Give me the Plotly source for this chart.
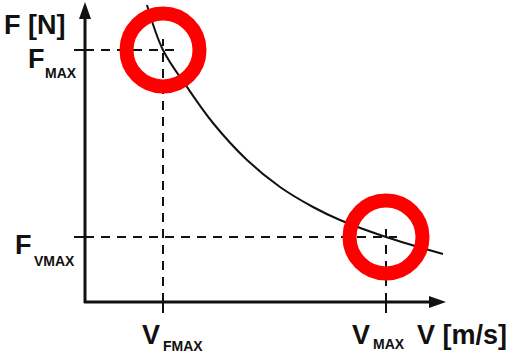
import plotly.graph_objects as go

# Force/velocity characteristic (arbitrary units on both axes)
speed = [62, 78, 102, 128, 162, 195, 228, 255, 301, 358]
force = [297, 252, 215, 179, 142, 115, 95, 82, 65, 48]

# Operating points marked on the curve
v_fmax, f_max = speed[1], force[1]
v_max, f_vmax = speed[8], force[8]

# Axis extents (arrow tips)
x_end = 361
y_end = 300

INK = "#111111"
RED = "#ff0000"
FONT = "Liberation Sans, Arial, sans-serif"

fig = go.Figure()

fig.add_trace(go.Scatter(
    x=speed, y=force, mode="lines",
    line=dict(color=INK, width=2, shape="spline", smoothing=1.0),
    hoverinfo="skip", showlegend=False,
))

shapes = []
dash = "9px,7px"
over = 11

# dashed guide lines from the axes to the marked points
shapes += [
    dict(type="line", x0=0, y0=f_max, x1=v_fmax + over, y1=f_max,
         line=dict(color=INK, width=2, dash=dash)),
    dict(type="line", x0=v_fmax, y0=0, x1=v_fmax, y1=f_max + over,
         line=dict(color=INK, width=2, dash=dash)),
    dict(type="line", x0=0, y0=f_vmax, x1=v_max + over, y1=f_vmax,
         line=dict(color=INK, width=2, dash=dash)),
    dict(type="line", x0=v_max, y0=0, x1=v_max, y1=f_vmax + over,
         line=dict(color=INK, width=2, dash=dash)),
]

# tick marks
tick = 11
for fv in (f_max, f_vmax):
    shapes.append(dict(type="line", x0=-tick, y0=fv, x1=0, y1=fv,
                       line=dict(color=INK, width=2)))
for vv in (v_fmax, v_max):
    shapes.append(dict(type="line", x0=vv, y0=-tick, x1=vv, y1=0,
                       line=dict(color=INK, width=2)))

# axes with arrow heads
shapes += [
    dict(type="line", x0=0, y0=-1, x1=0, y1=y_end - 14,
         line=dict(color=INK, width=3)),
    dict(type="line", x0=-1, y0=0, x1=x_end - 14, y1=0,
         line=dict(color=INK, width=3)),
    dict(type="path",
         path=f"M -6 {y_end - 17} L 0 {y_end} L 6 {y_end - 17} Z",
         fillcolor=INK, line=dict(color=INK, width=0)),
    dict(type="path",
         path=f"M {x_end - 17} -6 L {x_end} 0 L {x_end - 17} 6 Z",
         fillcolor=INK, line=dict(color=INK, width=0)),
]

# red rings around the two operating points
r = 36.5
for cx, cy in ((v_fmax, f_max), (v_max, f_vmax)):
    shapes.append(dict(type="circle", x0=cx - r, y0=cy - r, x1=cx + r, y1=cy + r,
                       line=dict(color=RED, width=14), layer="above"))

fig.update_layout(shapes=shapes)


def label(text, x, y, size, xanchor="left"):
    fig.add_annotation(
        x=x, y=y, xref="x", yref="y", text=text, showarrow=False,
        xanchor=xanchor, yanchor="middle",
        font=dict(family=FONT, size=size, color=INK, weight="bold"),
    )


BIG = 27
SMALL = 14

label("F [N]", -83, 277, BIG)
label("F", -59, f_max - 9, BIG)
label("MAX", -42, f_max - 23, SMALL)
label("F", -72, f_vmax - 8, BIG)
label("VMAX", -53, f_vmax - 24, SMALL)
label("V", v_fmax - 1, -33, BIG, xanchor="right")
label("FMAX", v_fmax - 2, -44, SMALL)
label("V", v_max - 14, -33, BIG, xanchor="right")
label("MAX", v_max - 15, -42, SMALL)
label("V [m/s]", 330, -33, BIG)

fig.update_layout(
    width=510, height=353,
    margin=dict(l=0, r=0, t=0, b=0),
    paper_bgcolor="white", plot_bgcolor="white",
    xaxis=dict(range=[-85, 425], visible=False, fixedrange=True),
    yaxis=dict(range=[-51, 302], visible=False, fixedrange=True),
    showlegend=False,
)

fig.write_html("out.html")
